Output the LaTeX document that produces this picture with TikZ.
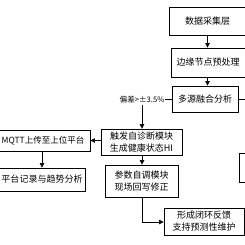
\documentclass[tikz,border=0pt]{standalone}
\usepackage{fontspec}
\setmainfont{Noto Sans CJK SC}
\usetikzlibrary{arrows.meta}
\tikzset{
    blk/.style={draw, thick, fill=white, align=center, font=\fontsize{9}{12}\selectfont, inner sep=0.5pt},
    arr/.style={-{Triangle[length=4.5pt,width=4.5pt]}, semithick},
    ln/.style={semithick}
}
\begin{document}
\begin{tikzpicture}[x=1pt, y=-1pt]
    \useasboundingbox (0,0) rectangle (245,244);
    \clip (0,0) rectangle (245,244);

    % Main chain
    \node[blk, minimum width=77pt, minimum height=28pt] (collect) at (207.5, 21) {数据采集层};
    \node[blk, minimum width=74pt, minimum height=29pt] (edge) at (208, 62.5) {边缘节点预处理};
    \node[blk, minimum width=66pt, minimum height=26pt] (fusion) at (205, 99) {多源融合分析};
    \draw[arr] (collect.south -| 207.5, 0) -- (edge.north -| 207.5, 0);
    \draw[arr] (edge.south -| 207.5, 0) -- (fusion.north -| 207.5, 0);

    % Deviation branch
    \node[font=\fontsize{7.6}{9}\selectfont, inner sep=1pt] (dev) at (142, 100) {偏差>±3.5\%};
    \coordinate (right) at (260, 99);
    \draw[ln] (fusion.west) -- (dev.east |- fusion.west);
    \draw[ln] (fusion.east) -- (right);
    \node[blk, minimum width=81pt, minimum height=26pt] (diag) at (141.5, 142) {触发自诊断模块\\生成健康状态HI};
    \draw[arr] (dev.south -| 142, 0) -- (diag.north -| 142, 0);

    % Upload side
    \node[blk, minimum width=94pt, minimum height=21pt, font=\fontsize{8.5}{10}\selectfont] (mqtt) at (43, 140.5) {MQTT上传至上位平台};
    \node[blk, minimum width=86pt, minimum height=23pt] (record) at (42, 179.5) {平台记录与趋势分析};
    \draw[arr] (diag.west |- 0, 140.5) -- (mqtt.east);
    \draw[arr] (mqtt.south -| record.north) -- (record.north);

    % Tuning and feedback
    \node[blk, minimum width=73pt, minimum height=32pt] (tune) at (141.5, 181) {参数自调模块\\现场回写修正};
    \node[blk, minimum width=80pt, minimum height=27pt] (loop) at (204, 221.5) {形成闭环反馈\\支持预测性维护};
    \draw[arr] (diag.south -| 142, 0) -- (tune.north -| 142, 0);
    \draw[arr] (tune.south -| 142, 0) |- (loop.west |- 0, 222);

    % Box cut at the right margin
    \node[blk, minimum width=60pt, minimum height=29pt] (side) at (269, 167.5) {};
\end{tikzpicture}
\end{document}
